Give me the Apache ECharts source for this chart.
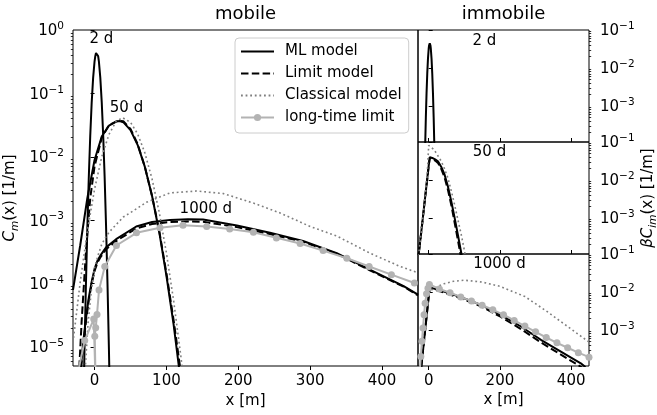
<!DOCTYPE html>
<html><head><meta charset="utf-8">
<script src="https://cdn.jsdelivr.net/npm/echarts@6/dist/echarts.min.js"></script>
<style>html,body{margin:0;padding:0;background:#fff}#c{width:657px;height:415px}</style>
</head><body><div id="c"></div>
<script>
// ---------- tick values ----------
const xTicksMain = [0, 100, 200, 300, 400];
const xTicksIm = [0, 200, 400];
const yMajorMain = [1e-5, 1e-4, 1e-3, 1e-2, 1e-1, 1];
const yMajorIm = [1e-3, 1e-2, 1e-1];
const titles = ['mobile', 'immobile'];
const legendNames = ['ML model', 'Limit model', 'Classical model', 'long-time limit'];

// ---------- mobile panel, 2 d ----------
const m2X  = [-16,-14,-12,-10,-8,-6,-4,-2,0,1,2,3,4,5,6,8,10,12,14,16,18,20,22];
const m2ML = [6.0e-7,9.0e-6,9.8e-5,8.0e-4,4.85e-3,0.0217,0.0718,0.176,0.321,0.387,0.433,0.45,0.433,0.387,0.321,0.176,0.0718,0.0217,4.85e-3,8.0e-4,9.8e-5,9.0e-6,6.0e-7];

// ---------- mobile panel, 50 d ----------
const m50X_ML = [-30,-20,-10,0,10,20,30,35,40,50,60,70,80,90,100,110,120];
const m50ML   = [7.94e-5,3.98e-4,2.24e-3,8.91e-3,0.0209,0.0309,0.0359,0.0366,0.0351,0.0263,0.0153,6.92e-3,2.40e-3,6.46e-4,1.32e-4,2.24e-5,2.82e-6];
const m50X_LM = [-22,-18,-12,-6,0,10,20,33,40,50,60,70,80,90,100,110,120,125];
const m50LM   = [3.16e-6,2.51e-5,3.16e-4,2.24e-3,7.08e-3,0.01995,0.0316,0.0372,0.0363,0.0275,0.0158,6.92e-3,2.40e-3,6.76e-4,1.45e-4,2.63e-5,3.98e-6,1.41e-6];
const m50X_CL = [-30,-20,-10,0,10,20,30,39,50,60,70,80,90,100,110,120,125];
const m50CL   = [1.17e-5,1.05e-4,6.76e-4,3.09e-3,0.01,0.0224,0.0363,0.0413,0.035,0.0229,0.0115,4.47e-3,1.32e-3,3.02e-4,5.37e-5,7.24e-6,2.40e-6];

// ---------- mobile panel, 1000 d ----------
const m1kX   = [-20,-16,-12,-8,-4,0,4,8,16,30,58,80,105,130,151,198,244,290,337,383,430,450];
const m1kML  = [3.55e-6,1.12e-5,2.82e-5,6.03e-5,1.07e-4,1.70e-4,2.29e-4,2.75e-4,3.72e-4,5.01e-4,7.94e-4,9.33e-4,1.01e-3,1.035e-3,1.02e-3,8.22e-4,6.31e-4,4.68e-4,3.02e-4,1.66e-4,9.12e-5,6.68e-5];
const m1kLM  = [3.16e-6,1.0e-5,2.51e-5,5.5e-5,1.0e-4,1.58e-4,2.14e-4,2.57e-4,3.47e-4,4.68e-4,7.41e-4,8.71e-4,9.33e-4,9.55e-4,9.44e-4,7.76e-4,6.03e-4,4.57e-4,2.95e-4,1.62e-4,8.91e-5,6.53e-5];
const m1kX_CL = [-13,-9,-4.4,0,5,10,16.5,21,40,53,72,105,142,179,221,258,300,337,383,425,450];
const m1kCL   = [4.47e-6,2.40e-5,7.94e-5,1.78e-4,2.82e-4,4.17e-4,5.62e-4,6.61e-4,1.12e-3,1.38e-3,1.91e-3,2.69e-3,2.88e-3,2.63e-3,1.86e-3,1.30e-3,7.94e-4,5.62e-4,3.02e-4,1.86e-4,1.48e-4];
const m1kX_LT = [-24,-13.7,-1.2,1.5,0.3,1.6,3.4,6.2,14.2,30.4,58.3,91,123,156,188,221,253,286,318,351,382,413,445];
const m1kLT   = [3.55e-6,1.26e-5,2.75e-5,2.51e-6,1.48e-5,2.0e-5,3.24e-5,7.94e-5,1.86e-4,3.98e-4,6.31e-4,7.59e-4,8.32e-4,7.94e-4,7.24e-4,6.46e-4,5.25e-4,4.27e-4,3.31e-4,2.51e-4,1.86e-4,1.38e-4,1.02e-4];

// ---------- immobile panels ----------
const i2X  = [-16,-14,-12,-10,-8,-6,-4,-2,0,1,2,3,4,5,6,8,10,12,14,16,18,20,22];
const i2ML = [6.0e-8,9.0e-7,9.8e-6,8.0e-5,4.85e-4,2.17e-3,7.18e-3,0.0176,0.0321,0.0387,0.0433,0.045,0.0433,0.0387,0.0321,0.0176,7.18e-3,2.17e-3,4.85e-4,8.0e-5,9.8e-6,9.0e-7,6.0e-8];

const i50X_ML = [-30,-20,-10,0,3,10,18,26,35,44.7,54,63.4,72,81.9,90,95];
const i50ML   = [7.59e-5,5.01e-4,3.47e-3,0.0234,0.0398,0.038,0.0347,0.0309,0.0224,0.0138,6.76e-3,2.75e-3,1.10e-3,3.63e-4,1.41e-4,7.94e-5];
const i50X_LM = [-30,-20,-10,0,3,10,18,26,35,44.7,54,63.4,72,81.9,90];
const i50LM   = [7.59e-5,5.01e-4,3.47e-3,0.0234,0.038,0.0363,0.0324,0.0282,0.02,0.0117,5.5e-3,2.19e-3,8.32e-4,2.63e-4,1.0e-4];
const i50X_CL = [-30,-20,-10,-4,0,5,15,25,35.5,45,54,63,72.7,82,91.4,100.7,105];
const i50CL   = [7.59e-5,5.01e-4,3.47e-3,0.0145,0.0813,0.0794,0.0631,0.0447,0.0309,0.0191,0.0112,5.37e-3,2.24e-3,8.91e-4,3.63e-4,1.32e-4,7.94e-5];

const i1kX   = [-21,-10,0,3,54,100,147,203,259,315,371,427,440];
const i1kML  = [1.02e-4,9.77e-4,7.59e-3,0.0132,9.55e-3,6.76e-3,4.57e-3,2.45e-3,1.23e-3,5.5e-4,2.69e-4,1.32e-4,1.05e-4];
const i1kLM  = [1.02e-4,9.77e-4,7.59e-3,0.0126,8.91e-3,6.31e-3,4.17e-3,2.19e-3,1.05e-3,4.68e-4,2.24e-4,1.07e-4,8.51e-5];
const i1kX_CL = [0,7,40,70,100,150,200,270,330,400,450];
const i1kCL   = [8.91e-3,0.0112,0.0162,0.0191,0.0204,0.0182,0.0141,7.59e-3,3.16e-3,1.05e-3,4.79e-4];
const i1kX_LT = [-25,-22,-19,-16,-13,-10,-6,-2,2,30,60,90,120,150,180,210,240,270,300,330,360,390,420,450];
const i1kLT   = [7.94e-5,2.0e-4,5.01e-4,1.12e-3,2.51e-3,5.01e-3,8.91e-3,0.0126,0.0158,0.012,9.55e-3,7.41e-3,5.75e-3,4.47e-3,3.39e-3,2.51e-3,1.78e-3,1.26e-3,8.91e-4,6.31e-4,4.57e-4,3.39e-4,2.51e-4,1.91e-4];

// ---------- annotations ----------
const annoMainText = ['2 d', '50 d', '1000 d'];
const annoMainX = [9.6, 44.4, 154.8];
const annoMainY = [0.71, 0.058, 1.50e-3];
const annoImText = ['2 d', '50 d', '1000 d'];
const annoImX = [156.6, 170.6, 198.6];
const annoImY = [0.051, 0.0556, 0.0546];

// ---------- helpers ----------
const FONT = 'DejaVu Sans';
const pairs = (xs, ys) => xs.map((x, i) => [x, ys[i]]);
function minorTicks(lo, hi) {
  const out = [];
  for (let e = -7; e <= 1; e++) for (let k = 2; k <= 9; k++) {
    const v = k * Math.pow(10, e);
    if (v >= lo * 0.999 && v <= hi * 1.001) out.push(v);
  }
  return out;
}
const supRich = {
  b: {fontSize: 15, fontFamily: FONT, color: '#000', verticalAlign: 'bottom', lineHeight: 18},
  s: {fontSize: 10.5, fontFamily: FONT, color: '#000', verticalAlign: 'top', lineHeight: 18}
};
function supLabel(v) {
  const e = Math.round(Math.log10(v));
  return '{b|10}{s|' + (e < 0 ? '\u2212' + (-e) : String(e)) + '}';
}
const YMIN_M = 5e-6, YMAX_M = 1, YMIN_I = 1.12e-4, YMAX_I = 0.1;

const grids = [
  {left: 73, top: 30, width: 345, height: 336},
  {left: 418, top: 30, width: 171, height: 112},
  {left: 418, top: 142, width: 171, height: 112},
  {left: 418, top: 254, width: 171, height: 112}
].map(g => Object.assign({show: true, borderColor: '#000', borderWidth: 1, backgroundColor: 'transparent', containLabel: false, outerBoundsMode: 'none'}, g));

function xAx(gi, ticks, showLabel, inside) {
  return {
    type: 'value', gridIndex: gi, min: -30, max: 450,
    axisLine: {show: false}, splitLine: {show: false},
    axisTick: {show: true, customValues: ticks, inside: inside, length: 4, lineStyle: {color: '#000', width: 1}},
    axisLabel: {show: showLabel, customValues: ticks, margin: 8, fontSize: 15, fontFamily: FONT, color: '#000'},
    name: showLabel ? 'x [m]' : '', nameLocation: 'middle', nameGap: 27,
    nameTextStyle: {fontSize: 15, fontFamily: FONT, color: '#000'}
  };
}
function yAx(gi, lo, hi, pos, majors, margin) {
  return {
    type: 'log', logBase: 10, gridIndex: gi, min: lo, max: hi, position: pos,
    axisLine: {show: false}, splitLine: {show: false}, minorTick: {show: false},
    axisTick: {show: true, customValues: majors, length: 4, lineStyle: {color: '#000', width: 1}},
    axisLabel: {show: true, customValues: majors, formatter: supLabel, rich: supRich, margin: margin}
  };
}
function yMinor(gi, lo, hi, pos) {
  return {
    type: 'log', logBase: 10, gridIndex: gi, min: lo, max: hi, position: pos,
    axisLine: {show: false}, splitLine: {show: false}, axisLabel: {show: false},
    axisTick: {show: true, customValues: minorTicks(lo, hi), length: 2.2, lineStyle: {color: '#000', width: 0.8}}
  };
}

const ST = {
  ml: {color: '#000', width: 2, type: 'solid'},
  lm: {color: '#000', width: 2, type: [7.5, 3.3]},
  cl: {color: '#7f7f7f', width: 1.6, type: [1.8, 2.8]}
};
function line(name, data, xi, yi, st, z) {
  return {
    type: 'line', name: name, data: data, xAxisIndex: xi, yAxisIndex: yi,
    symbol: 'none', showSymbol: false, clip: true, silent: true, animation: false,
    lineStyle: Object.assign({cap: 'butt'}, st), itemStyle: {color: st.color}, z: z
  };
}
function ltLine(data, xi, yi) {
  return {
    type: 'line', name: legendNames[3], data: data, xAxisIndex: xi, yAxisIndex: yi,
    symbol: 'circle', symbolSize: 7, showSymbol: true, clip: true, silent: true, animation: false,
    lineStyle: {color: '#b3b3b3', width: 2}, itemStyle: {color: '#b3b3b3', opacity: 1}, z: 6
  };
}
function anno(texts, xs, ys, xi, yi) {
  return {
    type: 'scatter', xAxisIndex: xi, yAxisIndex: yi, symbolSize: 1, silent: true, animation: false,
    itemStyle: {color: 'rgba(0,0,0,0)', opacity: 1}, z: 10,
    data: texts.map((t, i) => ({name: t, value: [xs[i], ys[i]]})),
    label: {show: true, position: 'inside', formatter: '{b}', fontSize: 15, fontFamily: FONT,
            color: '#000', opacity: 1, textBorderWidth: 0}
  };
}

const series = [
  // mobile
  line(legendNames[0], pairs(m2X, m2ML), 0, 0, ST.ml, 5),
  line(legendNames[0], pairs(m50X_ML, m50ML), 0, 0, ST.ml, 5),
  line(legendNames[0], pairs(m1kX, m1kML), 0, 0, ST.ml, 5),
  line(legendNames[1], pairs(m50X_LM, m50LM), 0, 0, ST.lm, 5),
  line(legendNames[1], pairs(m1kX, m1kLM), 0, 0, ST.lm, 5),
  line(legendNames[2], pairs(m50X_CL, m50CL), 0, 0, ST.cl, 5),
  line(legendNames[2], pairs(m1kX_CL, m1kCL), 0, 0, ST.cl, 5),
  ltLine(pairs(m1kX_LT, m1kLT), 0, 0),
  // immobile 2 d
  line(legendNames[0], pairs(i2X, i2ML), 1, 2, ST.ml, 5),
  // immobile 50 d
  line(legendNames[0], pairs(i50X_ML, i50ML), 2, 4, ST.ml, 5),
  line(legendNames[1], pairs(i50X_LM, i50LM), 2, 4, ST.lm, 5),
  line(legendNames[2], pairs(i50X_CL, i50CL), 2, 4, ST.cl, 5),
  // immobile 1000 d
  line(legendNames[0], pairs(i1kX, i1kML), 3, 6, ST.ml, 5),
  line(legendNames[1], pairs(i1kX, i1kLM), 3, 6, ST.lm, 5),
  line(legendNames[2], pairs(i1kX_CL, i1kCL), 3, 6, ST.cl, 5),
  ltLine(pairs(i1kX_LT, i1kLT), 3, 6),
  // annotations
  anno(annoMainText, annoMainX, annoMainY, 0, 0),
  anno([annoImText[0]], [annoImX[0]], [annoImY[0]], 1, 2),
  anno([annoImText[1]], [annoImX[1]], [annoImY[1]], 2, 4),
  anno([annoImText[2]], [annoImX[2]], [annoImY[2]], 3, 6)
];

const hideSym = {opacity: 0};
const option = {
  animation: false,
  backgroundColor: '#fff',
  textStyle: {fontFamily: FONT},
  grid: grids,
  xAxis: [
    xAx(0, xTicksMain, true, false),
    xAx(1, xTicksIm, false, true),
    xAx(2, xTicksIm, false, true),
    xAx(3, xTicksIm, true, false)
  ],
  yAxis: [
    yAx(0, YMIN_M, YMAX_M, 'left', yMajorMain, 9), yMinor(0, YMIN_M, YMAX_M, 'left'),
    yAx(1, YMIN_I, YMAX_I, 'right', yMajorIm, 11), yMinor(1, YMIN_I, YMAX_I, 'right'),
    yAx(2, YMIN_I, YMAX_I, 'right', yMajorIm, 11), yMinor(2, YMIN_I, YMAX_I, 'right'),
    yAx(3, YMIN_I, YMAX_I, 'right', yMajorIm, 11), yMinor(3, YMIN_I, YMAX_I, 'right')
  ],
  legend: {
    data: [
      {name: legendNames[0], itemStyle: hideSym},
      {name: legendNames[1], itemStyle: hideSym},
      {name: legendNames[2], itemStyle: hideSym},
      {name: legendNames[3]}
    ],
    orient: 'vertical', left: 235, top: 38,
    itemWidth: 33, itemHeight: 9, itemGap: 7,
    padding: [6, 7, 8, 5],
    backgroundColor: 'rgba(255,255,255,0.85)', borderColor: '#cccccc', borderWidth: 1, borderRadius: 4,
    textStyle: {fontSize: 15, fontFamily: FONT, color: '#000', padding: [0, 0, 0, 6]},
    selectedMode: false
  },
  graphic: [
    {type: 'text', x: 245.5, y: 14, style: {text: titles[0], fontSize: 18, fontFamily: FONT, fill: '#000', align: 'center', verticalAlign: 'middle'}},
    {type: 'text', x: 503.5, y: 14, style: {text: titles[1], fontSize: 18, fontFamily: FONT, fill: '#000', align: 'center', verticalAlign: 'middle'}},
    {type: 'text', x: 12, y: 198, rotation: Math.PI / 2, style: {
      text: '{i|C}{sub|m}{n|(x) [1/m]}', align: 'center', verticalAlign: 'middle', fill: '#000',
      rich: {
        i: {fontSize: 15, fontFamily: FONT, fontStyle: 'italic', verticalAlign: 'top', lineHeight: 18},
        n: {fontSize: 15, fontFamily: FONT, verticalAlign: 'top', lineHeight: 18},
        sub: {fontSize: 10.5, fontFamily: FONT, fontStyle: 'italic', verticalAlign: 'bottom', lineHeight: 18}
      }}},
    {type: 'text', x: 650, y: 198, rotation: Math.PI / 2, style: {
      text: '{i|\u03b2C}{sub|im}{n|(x) [1/m]}', align: 'center', verticalAlign: 'middle', fill: '#000',
      rich: {
        i: {fontSize: 15, fontFamily: FONT, fontStyle: 'italic', verticalAlign: 'top', lineHeight: 18},
        n: {fontSize: 15, fontFamily: FONT, verticalAlign: 'top', lineHeight: 18},
        sub: {fontSize: 10.5, fontFamily: FONT, fontStyle: 'italic', verticalAlign: 'bottom', lineHeight: 18}
      }}}
  ],
  series: series
};
const chart = echarts.init(document.getElementById('c'), null, {renderer: 'canvas'});
chart.setOption(option);
</script>
</body></html>
